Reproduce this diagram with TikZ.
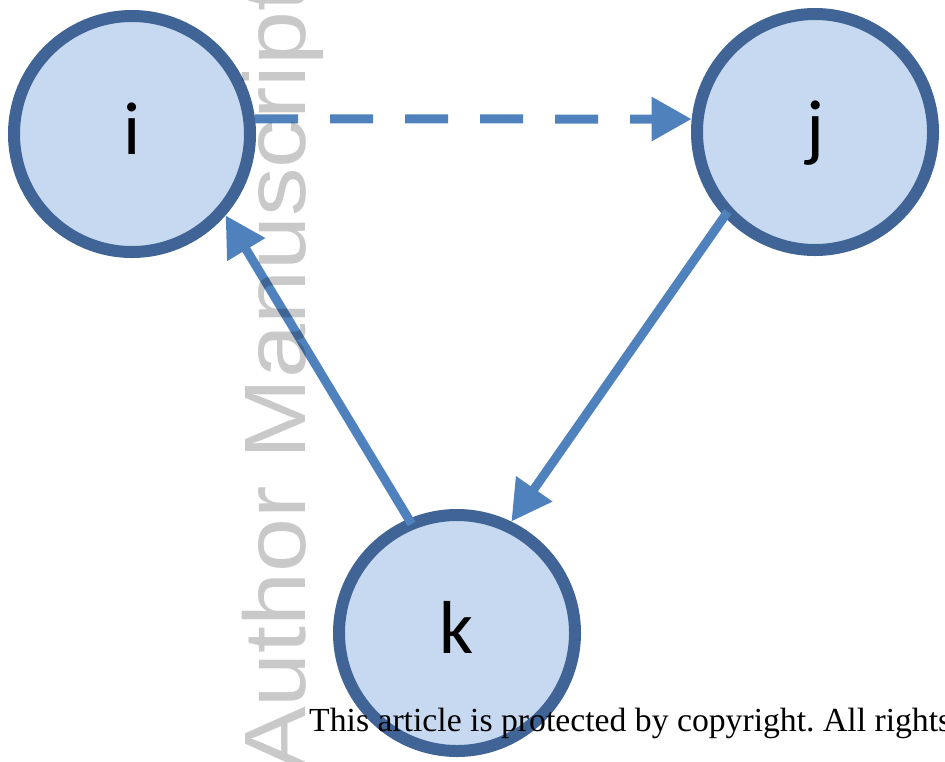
\documentclass[tikz,border=0pt]{standalone}
\usepackage{fontspec}
\setmainfont{Liberation Serif}
\newfontfamily\labelfont{Carlito}
\newfontfamily\wmfont{Liberation Sans}
\usetikzlibrary{arrows.meta}
\definecolor{ringc}{RGB}{64,100,150}
\definecolor{fillc}{RGB}{198,217,240}
\definecolor{arrc}{RGB}{79,129,189}
\frenchspacing
\begin{document}
\begin{tikzpicture}[x=1pt,y=-1pt,
  vert/.style={circle, draw=ringc, fill=fillc, line width=12pt, minimum size=236pt,
    inner sep=0pt, text=black, font=\labelfont\fontsize{75}{75}\selectfont,
    text height=40pt, text depth=0pt},
  edge/.style={draw=arrc, line width=9pt, -{Triangle[length=40pt,width=42pt]}},
  wm/.style={anchor=base west, rotate=90, inner sep=0pt, text=black, text opacity=0.21,
    font=\wmfont\fontsize{97}{97}\selectfont},
  note/.style={anchor=base west, inner sep=0pt, text=black, font=\fontsize{33.7}{33.7}\selectfont}
]
\useasboundingbox (0,0) rectangle (945,761);
\clip (0,0) rectangle (945,761);
\node[vert] (i) at (132,134) {i};
\node[vert] (j) at (815,132) {j};
\node[vert] (k) at (457,633) {k};
\draw[edge, dash pattern=on 43pt off 32pt] (i.7) -- (j.174);
\draw[edge, shorten <=-6pt] (j.223) -- (k.64);
\draw[edge, shorten <=-6pt] (k.113) -- (i.319);
\node[wm] (wmark) at (305,772) {\scalebox{1}[0.9]{Author Manuscript}};
\node[note] (copy) at (309,731) {This article is protected by copyright. All rights};
\end{tikzpicture}
\end{document}
